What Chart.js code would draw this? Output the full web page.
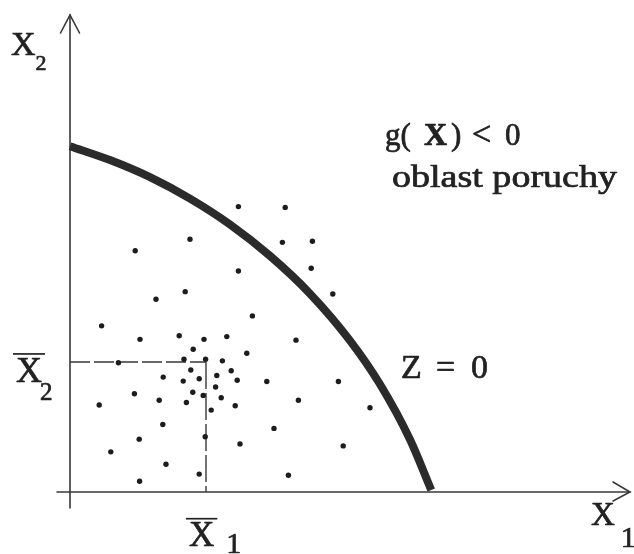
<!DOCTYPE html>
<html>
<head>
<meta charset="utf-8">
<title>oblast poruchy</title>
<script src="https://cdn.jsdelivr.net/npm/chart.js@4.4.1/dist/chart.umd.min.js"></script>
<style>
  html, body { margin: 0; padding: 0; background: #ffffff; }
  #wrap { width: 634px; height: 554px; }
</style>
</head>
<body>
<div id="wrap"><canvas id="c" width="634" height="554"></canvas></div>
<script>
// Random sample of the basic variables (X1, X2)
const sampleX1 = [4.21, 5.38, 3.00, 1.63, 5.31, 6.06, 4.21, 6.03, 2.88, 2.15, 6.57, 4.56, 0.79,
  1.75, 2.73, 3.35, 3.92, 5.65, 3.08, 4.42, 1.21, 2.85, 3.39, 3.81, 3.02, 4.03, 3.67, 2.33,
  2.83, 3.23, 4.18, 4.92, 6.71, 3.64, 1.61, 3.07, 3.33, 3.78, 2.23, 2.91, 5.71, 0.73, 4.13,
  3.53, 7.50, 2.32, 5.10, 3.38, 1.73, 1.02, 4.25, 6.83, 2.40, 3.23, 5.46, 1.74];
const sampleX2 = [7.18, 7.16, 6.36, 6.07, 6.28, 6.31, 5.56, 5.63, 5.04, 4.85, 4.98, 4.43, 4.18,
  3.84, 3.93, 3.84, 3.91, 3.82, 3.59, 3.49, 3.25, 3.34, 3.34, 3.30, 3.07, 3.05, 2.93, 2.89,
  2.79, 2.85, 2.81, 2.78, 2.78, 2.64, 2.47, 2.51, 2.43, 2.37, 2.31, 2.25, 2.31, 2.19, 2.17,
  2.06, 2.12, 1.70, 1.60, 1.39, 1.33, 1.01, 1.21, 1.16, 0.70, 0.45, 0.42, 0.27];

// Limit state boundary Z = 0
const boundaryX1 = [0.00, 1.00, 2.00, 3.00, 4.00, 5.00, 6.00, 7.00, 7.75, 8.50, 9.03];
const boundaryX2 = [8.70, 8.35, 7.92, 7.38, 6.73, 5.94, 4.99, 3.81, 2.71, 1.32, 0.05];

// Mean values
const meanX1 = 3.40;
const meanX2 = 3.27;

// Axis ranges
const x1Range = [0, 14];
const x2Range = [0, 12];

const samplePoints = sampleX1.map((v, i) => ({ x: v, y: sampleX2[i] }));
const boundaryPoints = boundaryX1.map((v, i) => ({ x: v, y: boundaryX2[i] }));

const INK = '#222222';
const SERIF = '"Liberation Serif", "DejaVu Serif", serif';

// filled text with a thin outline so the strokes read a little heavier
function ink(ctx, text, x, y) {
  ctx.fillText(text, x, y);
  ctx.strokeText(text, x, y);
}

function drawVarLabel(ctx, x, y, size, sub, subSize, subDx, subDy, bar) {
  ctx.font = size + 'px ' + SERIF;
  ink(ctx, 'X', x, y);
  const w = ctx.measureText('X').width;
  ctx.font = subSize + 'px ' + SERIF;
  ink(ctx, sub, x + w + subDx, y + subDy);
  if (bar) {
    ctx.save();
    ctx.beginPath();
    ctx.lineWidth = 1.7;
    ctx.moveTo(x - 3, y - size * 0.78);
    ctx.lineTo(x + w + 3, y - size * 0.78);
    ctx.stroke();
    ctx.restore();
  }
}

const diagramPlugin = {
  id: 'diagram',
  beforeDatasetsDraw(chart) {
    const { ctx } = chart;
    const xs = chart.scales.x, ys = chart.scales.y;
    const x0 = xs.getPixelForValue(0), y0 = ys.getPixelForValue(0);
    const xEnd = xs.getPixelForValue(x1Range[1]);
    const yEnd = ys.getPixelForValue(x2Range[1]);
    ctx.save();
    ctx.strokeStyle = '#383838';
    ctx.lineWidth = 1.6;
    ctx.lineCap = 'round';
    // axes
    ctx.beginPath();
    ctx.moveTo(x0 - 13, y0); ctx.lineTo(xEnd, y0);
    ctx.moveTo(x0, y0 + 16); ctx.lineTo(x0, yEnd);
    ctx.stroke();
    // arrow heads
    ctx.beginPath();
    ctx.moveTo(xEnd - 17, y0 - 10); ctx.lineTo(xEnd, y0); ctx.lineTo(xEnd - 17, y0 + 9);
    ctx.moveTo(x0 - 9.5, yEnd + 18); ctx.lineTo(x0, yEnd); ctx.lineTo(x0 + 9.5, yEnd + 18);
    ctx.stroke();
    // mean value guides
    const mx = xs.getPixelForValue(meanX1), my = ys.getPixelForValue(meanX2);
    ctx.lineWidth = 1.4;
    ctx.lineCap = 'butt';
    ctx.setLineDash([20, 4]);
    ctx.beginPath();
    ctx.moveTo(x0, my); ctx.lineTo(mx, my);
    ctx.stroke();
    ctx.setLineDash([27, 4]);
    ctx.beginPath();
    ctx.moveTo(mx, my); ctx.lineTo(mx, y0);
    ctx.stroke();
    ctx.restore();
  },
  afterDraw(chart) {
    const { ctx } = chart;
    const xs = chart.scales.x, ys = chart.scales.y;
    const mx = xs.getPixelForValue(meanX1), my = ys.getPixelForValue(meanX2);
    ctx.save();
    ctx.fillStyle = INK;
    ctx.strokeStyle = INK;
    ctx.lineWidth = 0.7;
    ctx.lineJoin = 'round';
    ctx.textBaseline = 'alphabetic';
    ctx.textAlign = 'left';
    // axis names
    drawVarLabel(ctx, 11, 55, 34, '2', 22, 0, 15, false);
    drawVarLabel(ctx, 591, 525, 33, '1', 30, 6, 22, false);
    // mean labels
    drawVarLabel(ctx, mx - 17, 546, 35, '1', 30, 12, 7, true);
    drawVarLabel(ctx, 16, my + 20, 36, '2', 25, -2, 18, true);

    // g(X) < 0
    ctx.font = '31px ' + SERIF;
    ink(ctx, 'g(', 385, 145);
    ctx.font = 'bold 32px ' + SERIF;
    ink(ctx, 'X', 424, 145);
    ctx.font = '31px ' + SERIF;
    ink(ctx, ')', 451, 145);
    ctx.font = '34px ' + SERIF;
    ink(ctx, '<', 472, 145);
    ctx.font = '31px ' + SERIF;
    ink(ctx, '0', 505, 145);

    // oblast poruchy
    ctx.font = '31px ' + SERIF;
    const txt = 'oblast poruchy';
    const w = ctx.measureText(txt).width;
    ctx.save();
    ctx.translate(392, 187);
    ctx.scale(225 / w, 1);
    ink(ctx, txt, 0, 0);
    ctx.restore();

    // Z = 0
    ctx.font = '34px ' + SERIF;
    ink(ctx, 'Z', 401, 378);
    ink(ctx, '=', 436, 378);
    ink(ctx, '0', 471, 378);
    ctx.restore();
  }
};

new Chart(document.getElementById('c'), {
  type: 'scatter',
  data: {
    datasets: [
      {
        label: 'X',
        data: samplePoints,
        pointRadius: 2.7,
        pointBackgroundColor: '#1c1c1c',
        pointBorderWidth: 0,
        clip: false
      },
      {
        type: 'line',
        label: 'Z = 0',
        data: boundaryPoints,
        borderColor: '#2b2b2b',
        borderWidth: 8,
        pointRadius: 0,
        cubicInterpolationMode: 'monotone',
        borderCapStyle: 'butt',
        fill: false,
        clip: false
      }
    ]
  },
  options: {
    responsive: false,
    animation: false,
    events: [],
    layout: { padding: { left: 70, right: 4, top: 15, bottom: 62 } },
    plugins: { legend: { display: false }, tooltip: { enabled: false } },
    scales: {
      x: { type: 'linear', min: x1Range[0], max: x1Range[1], display: false },
      y: { type: 'linear', min: x2Range[0], max: x2Range[1], display: false }
    }
  },
  plugins: [diagramPlugin]
});
</script>
</body>
</html>
